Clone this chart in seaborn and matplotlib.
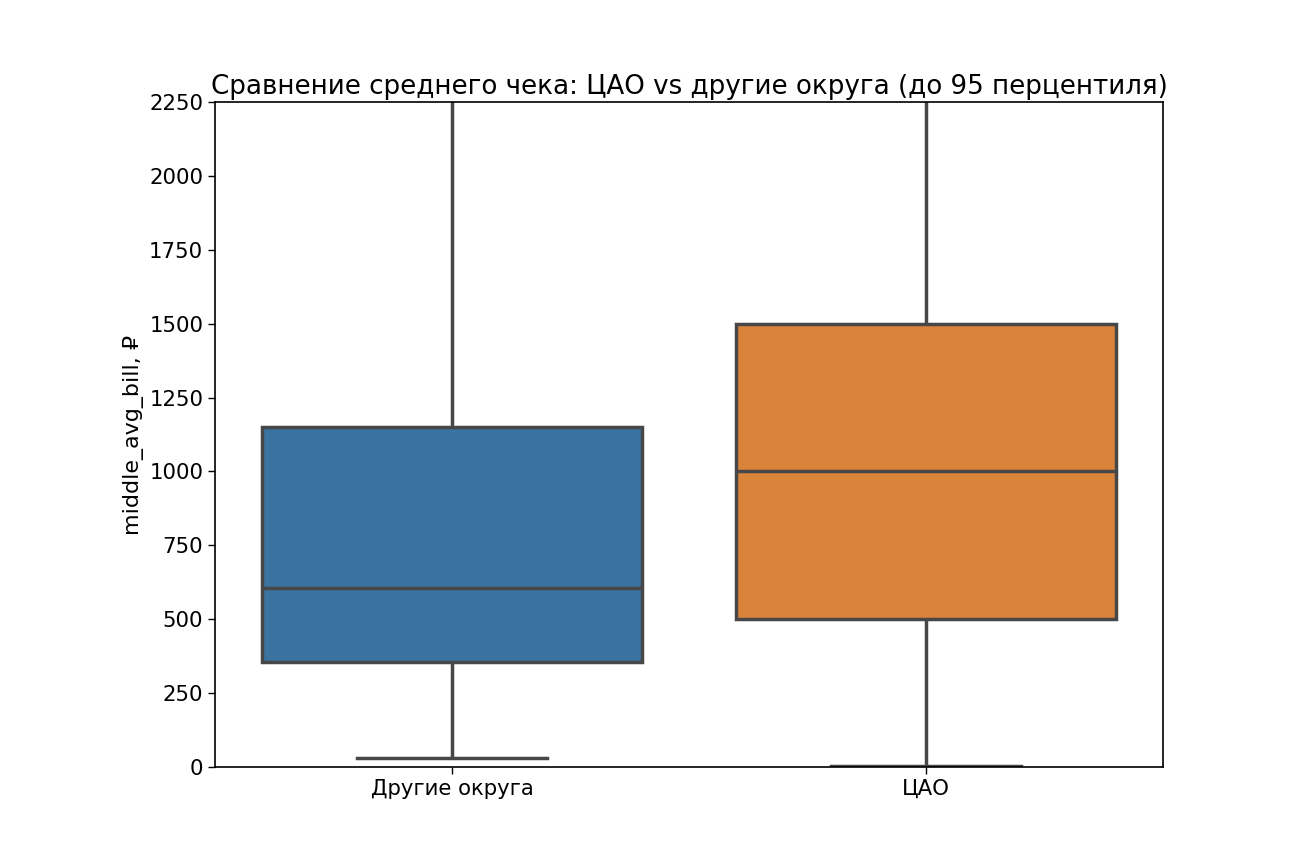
import matplotlib
matplotlib.use("Agg")
import matplotlib.pyplot as plt
import seaborn as sns
import pandas as pd

# Data: five-number style values per group (low whisker, Q1, median, Q3, high whisker)
groups = ["Другие округа", "ЦАО"]
other_values = [30, 355, 605, 1150, 2340]
cao_values = [5, 500, 1000, 1500, 3000]
y_ticks = [0, 250, 500, 750, 1000, 1250, 1500, 1750, 2000, 2250]
colors = ["#3a72a0", "#d9843a"]

df = pd.DataFrame({
    "district": [groups[0]] * len(other_values) + [groups[1]] * len(cao_values),
    "middle_avg_bill": other_values + cao_values,
})

plt.rcParams["font.family"] = ["DejaVu Sans"]

fig = plt.figure(figsize=(13.05, 8.5), dpi=100)
ax = fig.add_axes([0.1648, 0.0976, 0.7264, 0.7824])

sns.boxplot(data=df, x="district", y="middle_avg_bill", hue="district",
            palette=colors, saturation=1, linecolor="#474747", linewidth=2.5,
            width=0.8, legend=False, ax=ax)

ax.set_ylim(0, 2250)
ax.set_yticks(y_ticks)
ax.set_xlabel("")
ax.set_ylabel("middle_avg_bill, ₽", fontsize=16)
ax.set_title("Сравнение среднего чека: ЦАО vs другие округа (до 95 перцентиля)",
             fontsize=18.8, pad=6)
ax.tick_params(labelsize=15.3, length=5, width=1)
for s in ax.spines.values():
    s.set_linewidth(1.2)

fig.savefig("out.png", dpi=100)
